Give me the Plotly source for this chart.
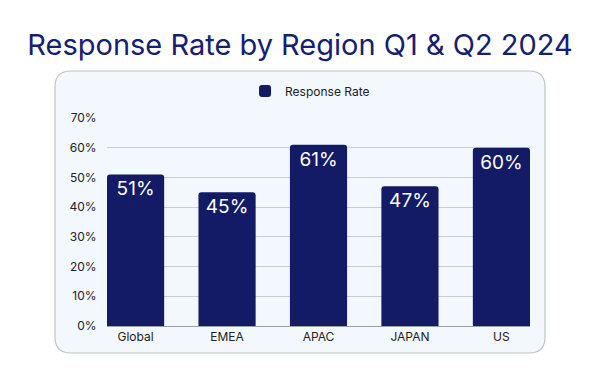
import plotly.graph_objects as go

regions = ["Global", "EMEA", "APAC", "JAPAN", "US"]
response_rate = [51, 45, 61, 47, 60]
labels = [f"{v}%" for v in response_rate]

NAVY = "#131A66"
W, H = 600, 371
L, R, T, B = 107, 70, 118, 45
pw, ph = W - L - R, H - T - B

def px2paper(x, y):
    return (x - L) / pw, (H - B - y) / ph

def rounded_rect(x0, y0, x1, y1, r):
    def P(x, y):
        a, b = px2paper(x, y)
        return f"{a:.5f},{b:.5f}"
    return (f"M {P(x0 + r, y0)} L {P(x1 - r, y0)} Q {P(x1, y0)} {P(x1, y0 + r)} "
            f"L {P(x1, y1 - r)} Q {P(x1, y1)} {P(x1 - r, y1)} "
            f"L {P(x0 + r, y1)} Q {P(x0, y1)} {P(x0, y1 - r)} "
            f"L {P(x0, y0 + r)} Q {P(x0, y0)} {P(x0 + r, y0)} Z")

fig = go.Figure()
fig.add_trace(go.Bar(
    x=regions, y=response_rate, name="Response Rate",
    marker=dict(color=NAVY, line=dict(width=0)),
    text=labels, textposition="inside", insidetextanchor="end",
    textfont=dict(color="white", size=19, family="Inter"),
    showlegend=True,
))

fig.add_shape(type="path", xref="paper", yref="paper",
              path=rounded_rect(55, 71, 545, 353, 16),
              fillcolor="#F2F8FD", line=dict(color="#BFC3C8", width=1.2),
              layer="below")

fig.update_layout(
    width=W, height=H,
    margin=dict(l=L, r=R, t=T, b=B, pad=0),
    paper_bgcolor="white", plot_bgcolor="rgba(0,0,0,0)",
    title=dict(text="Response Rate by Region Q1 & Q2 2024", x=0.5, xref="container",
               y=1 - 45 / H, yanchor="middle",
               font=dict(family="Inter", size=29, color="#16206E")),
    bargap=0.375, barcornerradius=3,
    legend=dict(orientation="h", x=0.48, xanchor="center", y=(H - B - 91) / ph, yanchor="middle",
                font=dict(family="Inter", size=12, color="#222222"), bgcolor="rgba(0,0,0,0)"),
    xaxis=dict(range=[-0.3125, 4.3125], showgrid=False, showline=True, linecolor="#9AA0A6",
               linewidth=1, ticks="", tickfont=dict(family="Inter", size=12, color="#222222")),
    yaxis=dict(range=[0, 70], tickvals=[0, 10, 20, 30, 40, 50, 60, 70],
               ticktext=[f"{v}%" for v in [0, 10, 20, 30, 40, 50, 60, 70]],
               showgrid=True, gridcolor="#C9CED4", gridwidth=1, zeroline=False,
               ticks="outside", ticklen=7, tickcolor="rgba(0,0,0,0)",
               tickfont=dict(family="Inter", size=12, color="#222222")),
    font=dict(family="Inter"),
)

fig.write_html("out.html", config={"displayModeBar": False},
               post_script="document.body.style.margin='0';")
